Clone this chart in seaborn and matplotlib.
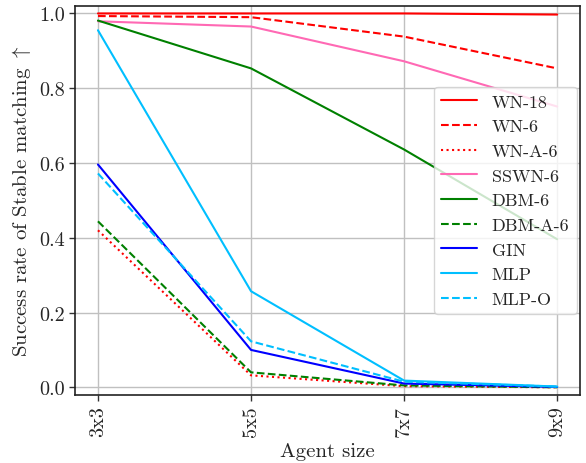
import pandas as pd
import numpy as np
import seaborn as sns
import matplotlib
matplotlib.use("Agg")
import matplotlib.pyplot as plt

# Data
sizes = ["3x3", "5x5", "7x7", "9x9"]
wn18 = [1.0, 1.0, 1.0, 0.997]
wn6 = [0.993, 0.990, 0.938, 0.853]
wna6 = [0.420, 0.032, 0.003, 0.0]
sswn6 = [0.979, 0.965, 0.872, 0.751]
dbm6 = [0.981, 0.853, 0.636, 0.396]
dbma6 = [0.444, 0.040, 0.005, 0.0]
gin = [0.596, 0.100, 0.010, 0.001]
mlp = [0.955, 0.257, 0.018, 0.002]
mlpo = [0.572, 0.123, 0.015, 0.002]

series = [
    ("WN-18", wn18, "red", "-"),
    ("WN-6", wn6, "red", "--"),
    ("WN-A-6", wna6, "red", ":"),
    ("SSWN-6", sswn6, "hotpink", "-"),
    ("DBM-6", dbm6, "green", "-"),
    ("DBM-A-6", dbma6, "green", "--"),
    ("GIN", gin, "blue", "-"),
    ("MLP", mlp, "deepskyblue", "-"),
    ("MLP-O", mlpo, "deepskyblue", "--"),
]

sns.set_style("ticks")
plt.rcParams["font.family"] = "serif"
plt.rcParams["font.serif"] = ["cmr10", "DejaVu Serif"]
plt.rcParams["mathtext.fontset"] = "cm"
plt.rcParams["axes.formatter.use_mathtext"] = True

fig, ax = plt.subplots(figsize=(5.86, 4.64), dpi=100)

for name, vals, color, ls in series:
    df = pd.DataFrame({"x": np.arange(len(sizes)), "y": vals})
    sns.lineplot(data=df, x="x", y="y", ax=ax, color=color, linestyle=ls,
                 linewidth=1.5, label=name)

ax.set_xticks(np.arange(len(sizes)))
ax.set_xticklabels(sizes, rotation=90, fontsize=14.5)
ax.tick_params(axis="y", labelsize=14.5)
ax.tick_params(direction="out", length=4, width=1, color="#333333")
ax.set_xlim(-0.15, 3.15)
ax.set_ylim(-0.02, 1.02)
ax.set_yticks([0.0, 0.2, 0.4, 0.6, 0.8, 1.0])
ax.set_yticklabels(["0.0", "0.2", "0.4", "0.6", "0.8", "1.0"])
ax.grid(True, color="#c0c0c0", linewidth=1.0)
ax.set_xlabel("Agent size", fontsize=15)
ax.set_ylabel(r"Success rate of Stable matching $\uparrow$", fontsize=15)
for s in ax.spines.values():
    s.set_visible(True)
    s.set_linewidth(1.2)
    s.set_color("#222222")

ax.legend(loc="center right", fontsize=13, framealpha=0.8, handlelength=2.0,
          borderaxespad=0.2)

fig.subplots_adjust(left=0.128, right=0.99, bottom=0.147, top=0.985)
plt.savefig("out.png", dpi=100)
